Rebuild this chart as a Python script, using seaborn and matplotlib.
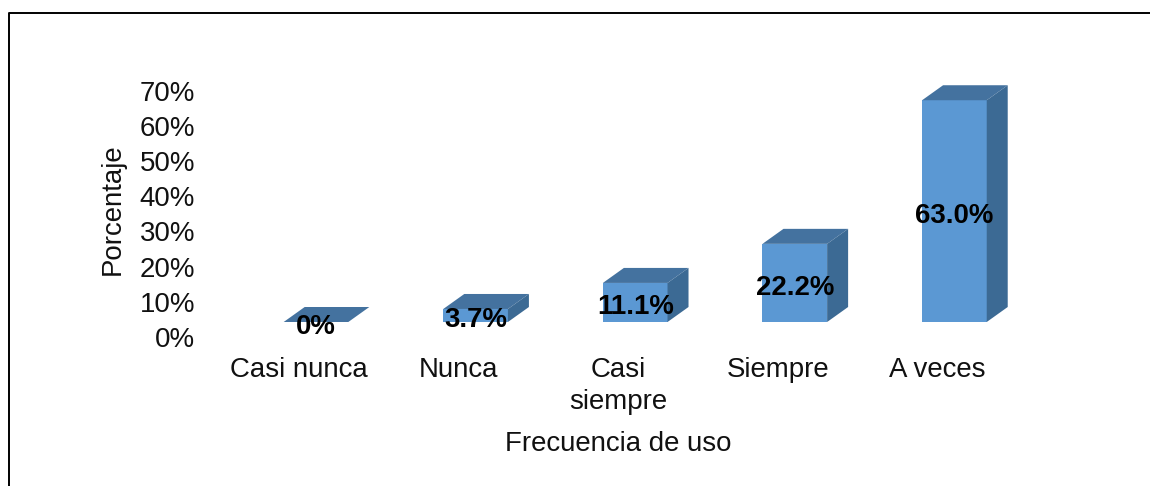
import matplotlib
matplotlib.use("Agg")
import matplotlib.pyplot as plt
from matplotlib.lines import Line2D
from matplotlib.transforms import ScaledTranslation
import seaborn as sns

categories = ["Casi nunca", "Nunca", "Casi\nsiempre", "Siempre", "A veces"]
values = [0, 3.7, 11.1, 22.2, 63.0]
value_labels = ["0%", "3.7%", "11.1%", "22.2%", "63.0%"]
y_ticks = [0, 10, 20, 30, 40, 50, 60, 70]
y_tick_labels = ["0%", "10%", "20%", "30%", "40%", "50%", "60%", "70%"]

sns.set_theme(style="white")
plt.rcParams["font.family"] = ["Liberation Sans", "DejaVu Sans"]

W, H = 1150, 486
fig = plt.figure(figsize=(W / 100, H / 100), dpi=100)
ax = fig.add_axes([236.2 / W, (H - 322) / H, 798 / W, 246.4 / H])

sns.barplot(x=categories, y=values, color="#5B98D3", saturation=1, width=0.405,
            linewidth=0, ax=ax)
ax.set_xlim(-0.5, 4.5)
ax.set_ylim(0, 70)
sns.despine(ax=ax, left=True, bottom=True)

# fake 3d: depth of the bars, 21 px right and 15 px up
dx = 21 / 159.6
dy = 15 / (246.4 / 70)
for bar in ax.patches:
    x0 = bar.get_x()
    x1 = x0 + bar.get_width()
    h = bar.get_height()
    ax.fill([x0, x1, x1 + dx, x0 + dx], [h, h, h + dy, h + dy],
            color="#44729F", lw=0, clip_on=False)
    if h > 0:
        ax.fill([x1, x1 + dx, x1 + dx, x1], [0, dy, h + dy, h],
                color="#3C6A94", lw=0, clip_on=False)

for bar, txt in zip(ax.patches, value_labels):
    ax.annotate(txt, (bar.get_x() + bar.get_width() / 2, bar.get_height() / 2),
                xytext=(0, -3.5), textcoords="offset points", ha="center", va="center",
                fontsize=19.9, fontweight="bold", color="black", zorder=5)

ax.set_yticks(y_ticks)
ax.set_yticklabels(y_tick_labels)
ax.tick_params(axis="both", length=0, labelsize=19.9, labelcolor="#111111")
ax.tick_params(axis="x", pad=25.5)
ax.tick_params(axis="y", pad=29.5)

# tick labels sit on the floor of the 3d box, not at the front of the bars
for lab in ax.get_xticklabels():
    lab.set_transform(lab.get_transform() + ScaledTranslation(-17 / 100, 0, fig.dpi_scale_trans))
    lab.set_linespacing(1.27)
for lab in ax.get_yticklabels():
    lab.set_transform(lab.get_transform() + ScaledTranslation(0, -15 / 100, fig.dpi_scale_trans))

ax.set_xlabel("Frecuencia de uso", fontsize=19.9, color="#111111", va="center")
ax.xaxis.set_label_coords(0.479, -0.495)
ax.set_ylabel("Porcentaje", fontsize=19.9, color="#111111", va="center")
ax.yaxis.set_label_coords(-0.155, 0.457)

# frame of the picture, only top and left are visible
fig.add_artist(Line2D([8.5 / W, 8.5 / W, 1], [0, (H - 13) / H, (H - 13) / H],
                      color="black", lw=1.4))

fig.savefig("out.png", dpi=100)
